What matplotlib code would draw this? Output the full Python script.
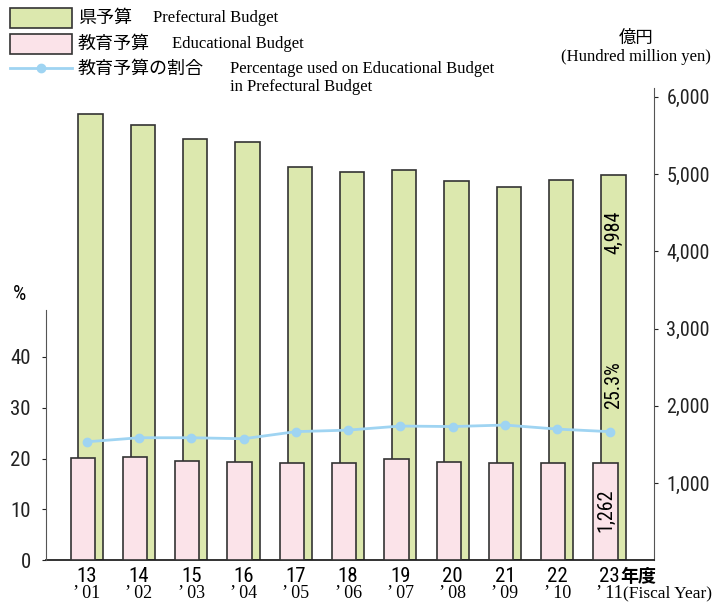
import numpy as np
import matplotlib
matplotlib.use("Agg")
from matplotlib import pyplot as plt
from matplotlib import font_manager
from matplotlib.patches import Rectangle
from matplotlib.lines import Line2D

# data
years_jp = ["13", "14", "15", "16", "17", "18", "19", "20", "21", "22", "23"]
years_ad = ["'01", "'02", "'03", "'04", "'05", "'06", "'07", "'08", "'09", "'10", "'11"]
pref_budget = [5776, 5633, 5460, 5417, 5093, 5028, 5054, 4912, 4834, 4925, 4984]
edu_budget = [1329, 1334, 1290, 1277, 1260, 1264, 1309, 1269, 1260, 1256, 1262]
edu_share = [23.3, 24.1, 24.1, 23.9, 25.3, 25.6, 26.4, 26.3, 26.6, 25.8, 25.3]

installed = {f.name for f in font_manager.fontManager.ttflist}
narrow = [n for n in ["Liberation Sans Narrow", "DejaVu Sans Condensed", "Roboto Condensed",
                      "Liberation Sans"] if n in installed]
NUM = narrow[:1] + ["DejaVu Sans"]
SERIF = ["Liberation Serif", "DejaVu Serif"]
JP = ["Noto Sans CJK JP", "DejaVu Sans"]

green = "#dce8ae"
pink = "#fbe3e9"
blue = "#9fd4f2"
edge = "#333333"

fig = plt.figure(figsize=(7.2, 6.04), dpi=100)
ax = fig.add_axes([0.0639, 0.0724, 0.8444, 0.782])
x = np.arange(len(years_jp))
w = 0.465
off = 0.075

ax.bar(x + off, pref_budget, w, color=green, edgecolor=edge, linewidth=1.2, zorder=2)
ax.bar(x - off, edu_budget, w, color=pink, edgecolor=edge, linewidth=1.2, zorder=3)
ax.set_xlim(-0.778, 10.85)
ax.set_ylim(0, 6116)
ax.set_xticks([])

# percentage line on left axis
axp = ax.twinx()
axp.plot(x, edu_share, color=blue, linewidth=2, marker="o", markersize=6, zorder=4)
axp.set_ylim(0, 92.9)

ax.yaxis.tick_right()
ax.set_yticks([1000, 2000, 3000, 4000, 5000, 6000])
ax.set_yticklabels([f"{v:,}" for v in [1000, 2000, 3000, 4000, 5000, 6000]],
                   fontfamily=NUM, fontsize=14.5)
ax.tick_params(axis="y", direction="out", length=3, width=0.8, pad=6, colors="#222222")
for s in ["top", "left"]:
    ax.spines[s].set_visible(False)
ax.spines["right"].set_color("#555555")
ax.spines["bottom"].set_color("#222222")
ax.spines["bottom"].set_linewidth(1.3)

axp.yaxis.tick_left()
axp.set_yticks([0, 10, 20, 30, 40])
axp.set_yticklabels(["0", "10", "20", "30", "40"], fontfamily=NUM, fontsize=15)
axp.tick_params(axis="y", direction="out", length=3, width=0.8, pad=8, colors="#222222")
for s in ["top", "right", "bottom"]:
    axp.spines[s].set_visible(False)
axp.spines["left"].set_visible(True)
axp.spines["left"].set_bounds(0, 49.2)
axp.spines["left"].set_color("#555555")

# value labels on last bars
axp.text(x[-1] + off, 4250 / 6116 * 92.9, f"{pref_budget[-1]:,}", rotation=90, ha="center",
         va="center", fontfamily=NUM, fontsize=14.5, zorder=5)
axp.text(x[-1] - off, 650 / 6116 * 92.9, f"{edu_budget[-1]:,}", rotation=90, ha="center",
         va="center", fontfamily=NUM, fontsize=14.5, zorder=5)
axp.text(x[-1] + off, 34.5, f"{edu_share[-1]}%", rotation=90, ha="center", va="center",
         fontfamily=NUM, fontsize=14.5, zorder=5)

# x labels
tr = ax.get_xaxis_transform()
for i in range(len(years_jp)):
    ax.text(x[i], -0.035, years_jp[i], transform=tr, ha="center", va="center",
            fontfamily=NUM, fontsize=15, clip_on=False)
    ax.text(x[i], -0.071, years_ad[i].replace("'", "\u2019 "), transform=tr, ha="center",
            va="center", fontfamily=SERIF, fontsize=13, clip_on=False)
ax.annotate("年度", (x[-1], -0.035), xycoords=tr, xytext=(8, 0), textcoords="offset points",
            ha="left", va="center", fontfamily=JP, fontsize=13, fontweight="bold",
            annotation_clip=False)
ax.annotate("(Fiscal Year)", (x[-1], -0.071), xycoords=tr, xytext=(10, 0), textcoords="offset points",
            ha="left", va="center", fontfamily=SERIF, fontsize=12.5, annotation_clip=False)

# axis unit labels
fig.text(20 / 720, 1 - 295 / 604, "%", ha="center", va="center", fontfamily=NUM, fontsize=15)
fig.text(636 / 720, 1 - 38 / 604, "億円", ha="center", va="center", fontfamily=JP, fontsize=12.5)
fig.text(636 / 720, 1 - 57 / 604, "(Hundred million yen)", ha="center", va="center",
         fontfamily=SERIF, fontsize=12)


# legend drawn by hand
def fx(px):
    return px / 720


def fy(py):
    return 1 - py / 604


fig.patches.append(Rectangle((fx(10), fy(28)), fx(62), 20 / 604, transform=fig.transFigure,
                             facecolor=green, edgecolor=edge, linewidth=1.2))
fig.patches.append(Rectangle((fx(10), fy(54)), fx(62), 20 / 604, transform=fig.transFigure,
                             facecolor=pink, edgecolor=edge, linewidth=1.2))
fig.lines.append(Line2D([fx(10), fx(72)], [fy(68), fy(68)], transform=fig.transFigure,
                        color=blue, linewidth=2))
fig.lines.append(Line2D([fx(41)], [fy(68)], transform=fig.transFigure, color=blue,
                        marker="o", markersize=6))

fig.text(fx(78), fy(18), "県予算", ha="left", va="center", fontfamily=JP, fontsize=13)
fig.text(fx(153), fy(18), "Prefectural Budget", ha="left", va="center", fontfamily=SERIF, fontsize=12)
fig.text(fx(78), fy(44), "教育予算", ha="left", va="center", fontfamily=JP, fontsize=13)
fig.text(fx(172), fy(44), "Educational Budget", ha="left", va="center", fontfamily=SERIF, fontsize=12)
fig.text(fx(78), fy(69), "教育予算の割合", ha="left", va="center", fontfamily=JP, fontsize=13)
fig.text(fx(230), fy(69), "Percentage used on Educational Budget", ha="left", va="center",
         fontfamily=SERIF, fontsize=12)
fig.text(fx(230), fy(87), "in Prefectural Budget", ha="left", va="center", fontfamily=SERIF, fontsize=12)

fig.savefig("out.png", dpi=100, facecolor="white")
